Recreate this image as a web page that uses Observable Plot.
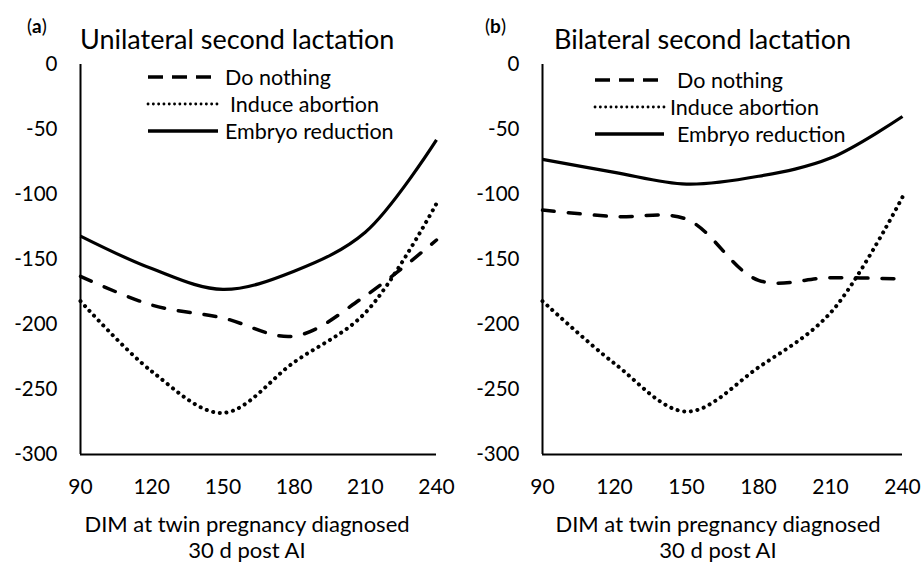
<!DOCTYPE html>
<html>
<head>
<meta charset="utf-8">
<script src="https://cdn.jsdelivr.net/npm/d3@7"></script>
<script src="https://cdn.jsdelivr.net/npm/@observablehq/plot@0.6"></script>
<style>
  html, body { margin: 0; padding: 0; background: #fff; }
  #wrap { position: relative; width: 923px; height: 563px; overflow: hidden; font-family: Lato, "Open Sans", sans-serif; }
  .panel { position: absolute; top: 0; }
  #overlay { position: absolute; left: 0; top: 0; pointer-events: none; }
</style>
</head>
<body>
<div id="wrap">
  <div id="pa" class="panel" style="left:0px"></div>
  <div id="pb" class="panel" style="left:461px"></div>
  <svg id="overlay" width="923" height="563"></svg>
</div>
<script>
// ---- Data ----
const days = [90, 120, 150, 180, 210, 240];
const xTicks = [90, 120, 150, 180, 210, 240];
const yTicks = [0, -50, -100, -150, -200, -250, -300];
const seriesNames = ["Do nothing", "Induce abortion", "Embryo reduction"];

// (a) Unilateral second lactation
const uniDoNothing = [-163, -185, -195, -209, -178, -135];
const uniInduceAbortion = [-182, -236, -268, -229, -191, -107];
const uniEmbryoReduction = [-132, -157, -173, -159, -129, -58];

// (b) Bilateral second lactation
const biDoNothing = [-112, -117, -119, -166, -164, -165];
const biInduceAbortion = [-182, -230, -267, -233, -191, -102];
const biEmbryoReduction = [-73, -83, -92, -86, -72, -40];

const panelTitles = ["Unilateral second lactation", "Bilateral second lactation"];
const panelLetters = ["a", "b"];
const xLabelLines = ["DIM at twin pregnancy diagnosed", "30 d post AI"];

// ---- Styles ----
const styles = {
  "Do nothing": {dash: "12,14", width: 3.5, cap: "round", legDash: "15,9", legCap: "butt", legWidth: 3.5},
  "Induce abortion": {dash: "0.1,6.6", width: 4, cap: "round", legDash: "0.1,5.2", legCap: "round", legWidth: 2.8},
  "Embryo reduction": {dash: null, width: 3.2, cap: "butt", legDash: null, legCap: "butt", legWidth: 3.4}
};

function toRows(arrs) {
  const rows = [];
  seriesNames.forEach((name, i) => {
    days.forEach((d, j) => rows.push({series: name, day: d, value: arrs[i][j]}));
  });
  return rows;
}

function makePanel(rows, marginLeft, marginRight, width) {
  const marks = [
    Plot.ruleX([90], {y1: 0, y2: -300, stroke: "#000", strokeWidth: 2}),
    Plot.ruleY([-300], {x1: 90, x2: 240, stroke: "#000", strokeWidth: 2}),
    Plot.axisY({ticks: yTicks, tickSize: 0, tickPadding: 23, tickFormat: d => String(d), fontSize: 20.5, label: null}),
    Plot.axisX({ticks: xTicks, tickSize: 0, tickPadding: 25, tickFormat: d => String(d), fontSize: 21, label: null})
  ];
  seriesNames.forEach(name => {
    const s = styles[name];
    marks.push(Plot.line(rows.filter(r => r.series === name), {
      x: "day", y: "value", curve: "catmull-rom",
      stroke: "#000", strokeWidth: s.width,
      strokeDasharray: s.dash || undefined, strokeLinecap: s.cap
    }));
  });
  return Plot.plot({
    width, height: 500,
    marginLeft, marginRight, marginTop: 64, marginBottom: 46,
    style: {fontFamily: "Lato, 'Open Sans', sans-serif", color: "#000", background: "transparent", overflow: "visible"},
    x: {domain: [90, 240]},
    y: {domain: [-300, 0]},
    marks
  });
}

document.getElementById("pa").appendChild(
  makePanel(toRows([uniDoNothing, uniInduceAbortion, uniEmbryoReduction]), 80, 25, 461));
document.getElementById("pb").appendChild(
  makePanel(toRows([biDoNothing, biInduceAbortion, biEmbryoReduction]), 81, 21, 462));

// ---- Overlay: titles, legends, x labels ----
const svg = d3.select("#overlay");
const font = "Lato, 'Open Sans', sans-serif";
const layout = [
  {letterX: 27, titleX: 80, legX1: 148, legX2: 218, labX: [225, 230, 225], legY: [77, 104, 131], labCx: 247},
  {letterX: 485, titleX: 554, legX1: 595, legX2: 664, labX: [677, 670, 677], legY: [80, 107, 134], labCx: 718}
];
layout.forEach((L, p) => {
  const t = svg.append("text").attr("x", L.letterX).attr("y", 33)
    .attr("font-family", font).attr("font-size", 19).attr("fill", "#000");
  t.append("tspan").text("(");
  t.append("tspan").attr("font-weight", "bold").text(panelLetters[p]);
  t.append("tspan").text(")");
  svg.append("text").attr("x", L.titleX).attr("y", 49)
    .attr("font-family", font).attr("font-size", 27).attr("fill", "#000")
    .text(panelTitles[p]);
  seriesNames.forEach((name, i) => {
    const s = styles[name];
    svg.append("line").attr("x1", L.legX1).attr("x2", L.legX2)
      .attr("y1", L.legY[i]).attr("y2", L.legY[i])
      .attr("stroke", "#000").attr("stroke-width", s.legWidth)
      .attr("stroke-dasharray", s.legDash).attr("stroke-linecap", s.legCap);
    svg.append("text").attr("x", L.labX[i]).attr("y", L.legY[i] + 8)
      .attr("font-family", font).attr("font-size", 21.5).attr("fill", "#000")
      .text(name);
  });
  xLabelLines.forEach((line, k) => {
    svg.append("text").attr("x", L.labCx).attr("y", 532 + k * 26)
      .attr("text-anchor", "middle")
      .attr("font-family", font).attr("font-size", 22).attr("fill", "#000")
      .text(line);
  });
});
</script>
</body>
</html>
